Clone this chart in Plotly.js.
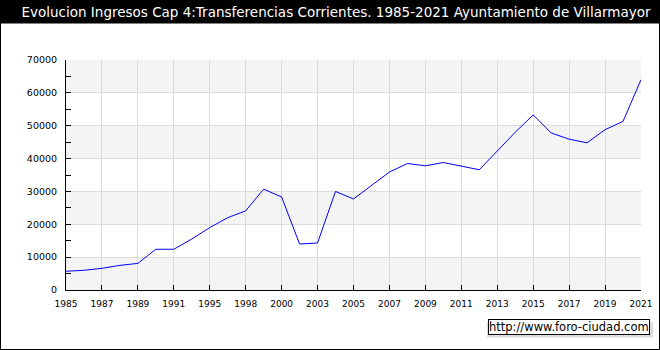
<!DOCTYPE html>
<html>
<head>
<meta charset="utf-8">
<script src="https://cdn.plot.ly/plotly-3.0.1.min.js"></script>
<style>
html,body{margin:0;padding:0;background:#fff;}
#chart{width:660px;height:350px;}
</style>
</head>
<body>
<div id="chart"></div>
<script>
// Data
const years = ["1985","1986","1987","1988","1989","1990","1991","1993","1995","1997","1998","1999","2000","2002","2003","2004","2005","2006","2007","2008","2009","2010","2011","2012","2013","2014","2015","2016","2017","2018","2019","2020","2021"];
const values = [5700,6000,6600,7500,8100,12400,12400,15500,19000,22000,24100,30700,28300,14000,14300,30000,27700,31800,35900,38500,37800,38800,37600,36600,42300,48000,53300,47800,45900,44800,48800,51300,64000];
const tickLabels = ["1985","1987","1989","1991","1995","1998","2000","2003","2005","2007","2009","2011","2013","2015","2017","2019","2021"];
const tickCats = ["1985","1987","1989","1991","1995","1998","2000","2003","2005","2007","2009","2011","2013","2015","2017","2019","2021"];
const bandStarts = [0,20000,40000,60000];
const bandSize = 10000;
const titleText = "Evolucion Ingresos Cap 4:Transferencias Corrientes. 1985-2021 Ayuntamiento de Villarmayor";
const sourceText = "http://www.foro-ciudad.com";

// pixel helpers for paper-anchored decorations
const W = 660, H = 350, L = 66, R = 19, T = 60, B = 60;
const pw = W - L - R, ph = H - T - B;
const px = x => (x - L) / pw;
const py = y => (H - B - y) / ph;

const shapes = [];
bandStarts.forEach(s => shapes.push({type:'rect', xref:'paper', yref:'y', x0:0, x1:1, y0:s, y1:s+bandSize, fillcolor:'#f4f4f4', line:{width:0}, layer:'below'}));
// title bar
shapes.push({type:'rect', xref:'paper', yref:'paper', x0:px(0), x1:px(660), y0:py(23.5), y1:py(0), fillcolor:'#000', line:{width:0}, layer:'below'});
// outer border
shapes.push({type:'rect', xref:'paper', yref:'paper', x0:px(0.5), x1:px(659.5), y0:py(349.5), y1:py(0.5), fillcolor:'rgba(0,0,0,0)', line:{color:'#000', width:1}, layer:'above'});
// watermark shadow
shapes.push({type:'rect', xref:'paper', yref:'paper', x0:px(487), x1:px(653), y0:py(337.5), y1:py(322), fillcolor:'#dcdcdc', line:{width:0}, layer:'below'});

const trace = {x: years, y: values, type:'scatter', mode:'lines', line:{color:'#0000ff', width:1}, hoverinfo:'skip'};

const layout = {
  width: W, height: H,
  margin: {l:L, r:R, t:T, b:B},
  paper_bgcolor:'#fff', plot_bgcolor:'#fff',
  showlegend:false,
  font:{family:'DejaVu Sans', size:9, color:'#000'},
  title:{text:titleText, font:{family:'DejaVu Sans', size:13.5, color:'#fff'}, x:0.5 + 6/660, xanchor:'center', y:1-12/350, yanchor:'middle', xref:'container', yref:'container'},
  xaxis:{type:'category', range:[0, years.length-1], tickmode:'array', tickvals:tickCats, ticktext:tickLabels,
    showgrid:true, gridcolor:'#dcdcdc', gridwidth:1, ticks:'inside', ticklen:5, tickcolor:'#000',
    showline:true, linecolor:'#000', linewidth:1, zeroline:false, tickfont:{size:9}, ticklabelstandoff:5},
  yaxis:{range:[0,70000], dtick:10000, tick0:0, tickformat:'d', showgrid:true, gridcolor:'#dcdcdc', gridwidth:1,
    ticks:'inside', ticklen:5, tickcolor:'#000', showline:true, linecolor:'#000', linewidth:1, zeroline:false,
    tickfont:{size:9.5}, ticklabelstandoff:6,
    minor:{dtick:5000, tick0:0, ticks:'inside', ticklen:5, tickcolor:'#000', showgrid:false}},
  shapes: shapes,
  annotations:[{text:sourceText, xref:'paper', yref:'paper', x:px(650), y:py(335), xanchor:'right', yanchor:'bottom', showarrow:false,
    font:{family:'DejaVu Sans', size:11.5, color:'#000'}, bgcolor:'#fff', bordercolor:'#000', borderwidth:1, borderpad:0}]
};

Plotly.newPlot('chart', [trace], layout, {displayModeBar:false, staticPlot:true});
</script>
</body>
</html>
